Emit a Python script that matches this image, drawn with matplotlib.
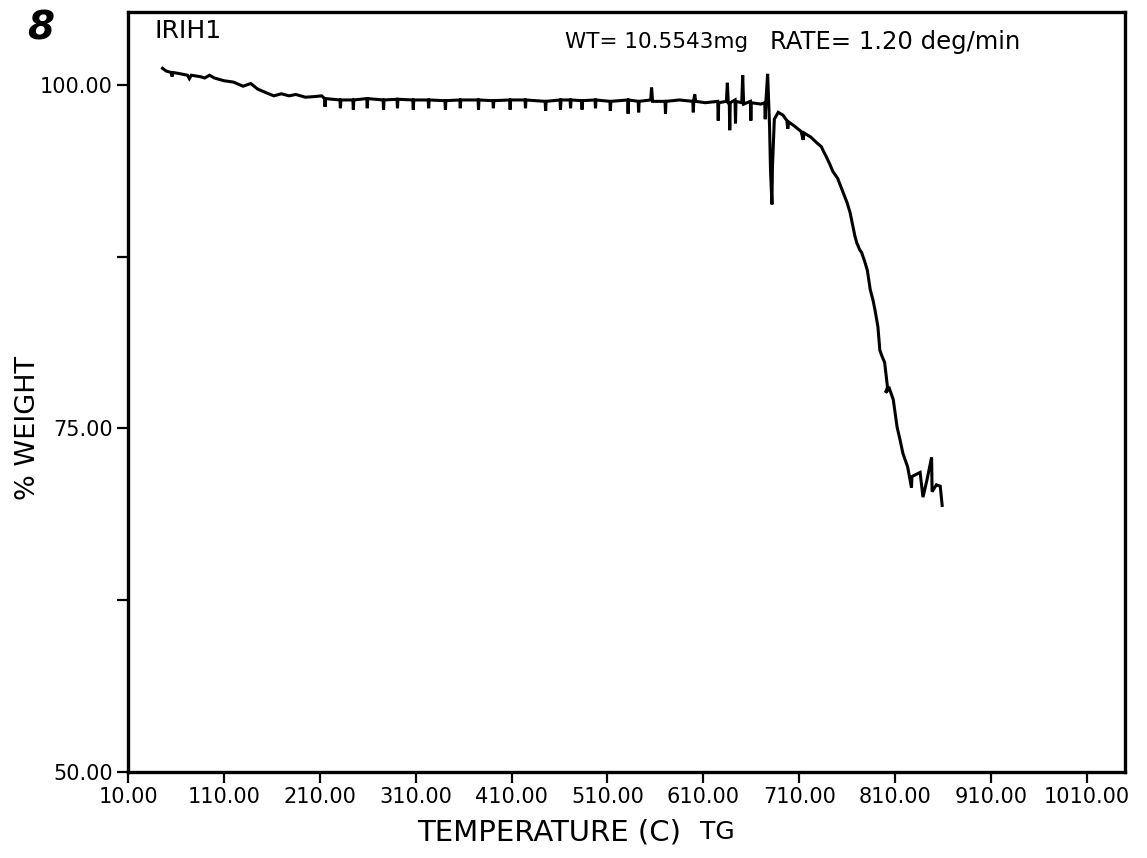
"""
TG curve (% weight vs temperature) recreated from the scanned plot.
"""

import matplotlib
matplotlib.use('Agg')
import matplotlib.pyplot as plt

# temperature (C) and % weight, left to right
temp = [46, 50, 55, 56, 57, 65, 72, 74, 76, 85, 90, 95, 100, 110, 120, 130,
        138, 145, 155, 162, 170, 178, 185, 195, 205, 212,
        215, 215.5, 216, 231, 231.5, 232, 244.5, 245, 245.5, 259, 259.5, 260,
        276, 276.5, 277, 290.5, 291, 291.5, 307, 307.5, 308, 323, 323.5, 324,
        340.5, 341, 341.5, 356, 356.5, 357, 375, 375.5, 376, 390.5, 391, 391.5,
        408, 408.5, 409, 424, 424.5, 425, 445, 445.5, 446, 460.5, 461, 461.5,
        471, 471.5, 472, 483, 483.5, 484, 497, 497.5, 498, 512.5, 513, 513.5,
        531, 531.5, 532, 542, 542.5, 543, 555, 556, 557, 570, 570.5, 571,
        585, 599, 599.5, 600, 601, 602, 612, 625, 625.5, 626, 634, 635, 636,
        637, 637.5, 638, 643, 643.5, 644, 650, 651, 652, 659, 659.5, 660,
        670, 674, 674.5, 675, 677, 679, 680, 681.5, 682, 684, 688, 693, 697,
        698, 699, 705, 712, 714, 715, 722, 728, 733, 735, 738, 742, 745, 750,
        755, 760, 763, 766, 768, 770, 773, 775, 778, 781, 784, 787, 789, 792,
        794, 796, 799, 802, 800, 804, 808, 812, 815, 818, 823, 827, 827.5, 836,
        839, 843, 848, 848.5, 853, 857, 859]
weight = [101.2, 101.0, 100.9, 100.6, 100.9, 100.8, 100.7, 100.45, 100.7, 100.6,
          100.5, 100.7, 100.5, 100.3, 100.2, 99.9, 100.1, 99.7, 99.4, 99.2,
          99.35, 99.2, 99.3, 99.1, 99.15, 99.2,
          99.0, 98.4, 99.0, 98.9, 98.3, 98.9, 98.9, 98.2, 98.9, 99.0, 98.3, 99.0,
          98.9, 98.2, 98.9, 98.95, 98.3, 98.95, 98.9, 98.2, 98.9, 98.9, 98.3, 98.9,
          98.85, 98.2, 98.85, 98.9, 98.3, 98.9, 98.9, 98.2, 98.9, 98.85, 98.3, 98.85,
          98.9, 98.2, 98.9, 98.9, 98.3, 98.9, 98.8, 98.1, 98.8, 98.9, 98.2, 98.9,
          98.9, 98.3, 98.9, 98.85, 98.2, 98.85, 98.9, 98.3, 98.9, 98.8, 98.1, 98.8,
          98.9, 97.9, 98.9, 98.8, 98.0, 98.8, 98.9, 99.8, 98.8, 98.8, 97.9, 98.8,
          98.9, 98.8, 98.0, 98.9, 99.3, 98.8, 98.7, 98.8, 97.4, 98.7, 98.8, 100.15, 98.6,
          98.8, 96.7, 98.7, 98.9, 97.2, 98.8, 98.7, 100.7, 98.6, 98.8, 97.4, 98.7,
          98.6, 98.7, 97.5, 98.6, 100.8, 97.0, 93.8, 91.3, 94.0, 97.5, 98.0, 97.8, 97.4,
          96.8, 97.3, 97.0, 96.6, 96.0, 96.5, 96.2, 95.8, 95.5, 95.2, 94.8, 94.2, 93.7, 93.2,
          92.3, 91.4, 90.7, 89.7, 89.0, 88.5, 88.0, 87.8, 87.2, 86.5, 85.1, 84.3, 83.6, 82.4,
          80.7, 80.3, 79.8, 78.0, 77.6, 77.9, 77.1, 75.1, 74.2, 73.2, 72.2, 70.7, 71.5, 71.8,
          70.0, 71.2, 72.9, 70.4, 70.9, 70.8, 69.4]

xticks = [10, 110, 210, 310, 410, 510, 610, 710, 810, 910, 1010]
xtick_labels = ['%.2f' % t for t in xticks]
yticks = [50, 62.5, 75, 87.5, 100]
ytick_labels = ['50.00', '', '75.00', '', '100.00']

plt.rcParams['font.family'] = ['DejaVu Sans']

fig = plt.figure(figsize=(11.47, 8.58), dpi=100)
ax = fig.add_axes([0.1116, 0.1002, 0.8695, 0.8858])

ax.plot(temp, weight, color='black', linewidth=2.2, solid_joinstyle='miter')

ax.set_xlim(10, 1050)
ax.set_ylim(50, 105.3)
ax.set_xticks(xticks)
ax.set_xticklabels(xtick_labels, fontsize=15)
ax.set_yticks(yticks)
ax.set_yticklabels(ytick_labels, fontsize=15)
ax.tick_params(direction='out', length=8, width=1.6, pad=3)
for s in ax.spines.values():
    s.set_linewidth(2.4)

# labels and header text as on the printout
fig.text(0.024, 0.501, '% WEIGHT', rotation=90, fontsize=19.5,
         ha='center', va='center')
fig.text(0.364, 0.030, 'TEMPERATURE (C)', fontsize=21, ha='left', va='center')
fig.text(0.610, 0.030, 'TG', fontsize=18, ha='left', va='center')
fig.text(0.035, 0.967, '8', fontsize=28, style='italic', fontweight='bold',
         ha='center', va='center')
fig.text(0.135, 0.964, 'IRIH1', fontsize=18, ha='left', va='center')
fig.text(0.4926, 0.951, 'WT= 10.5543mg', fontsize=15.5, ha='left', va='center')
fig.text(0.671, 0.951, 'RATE= 1.20 deg/min', fontsize=17.5, ha='left', va='center')

plt.savefig('out.png', dpi=100)
plt.close()
